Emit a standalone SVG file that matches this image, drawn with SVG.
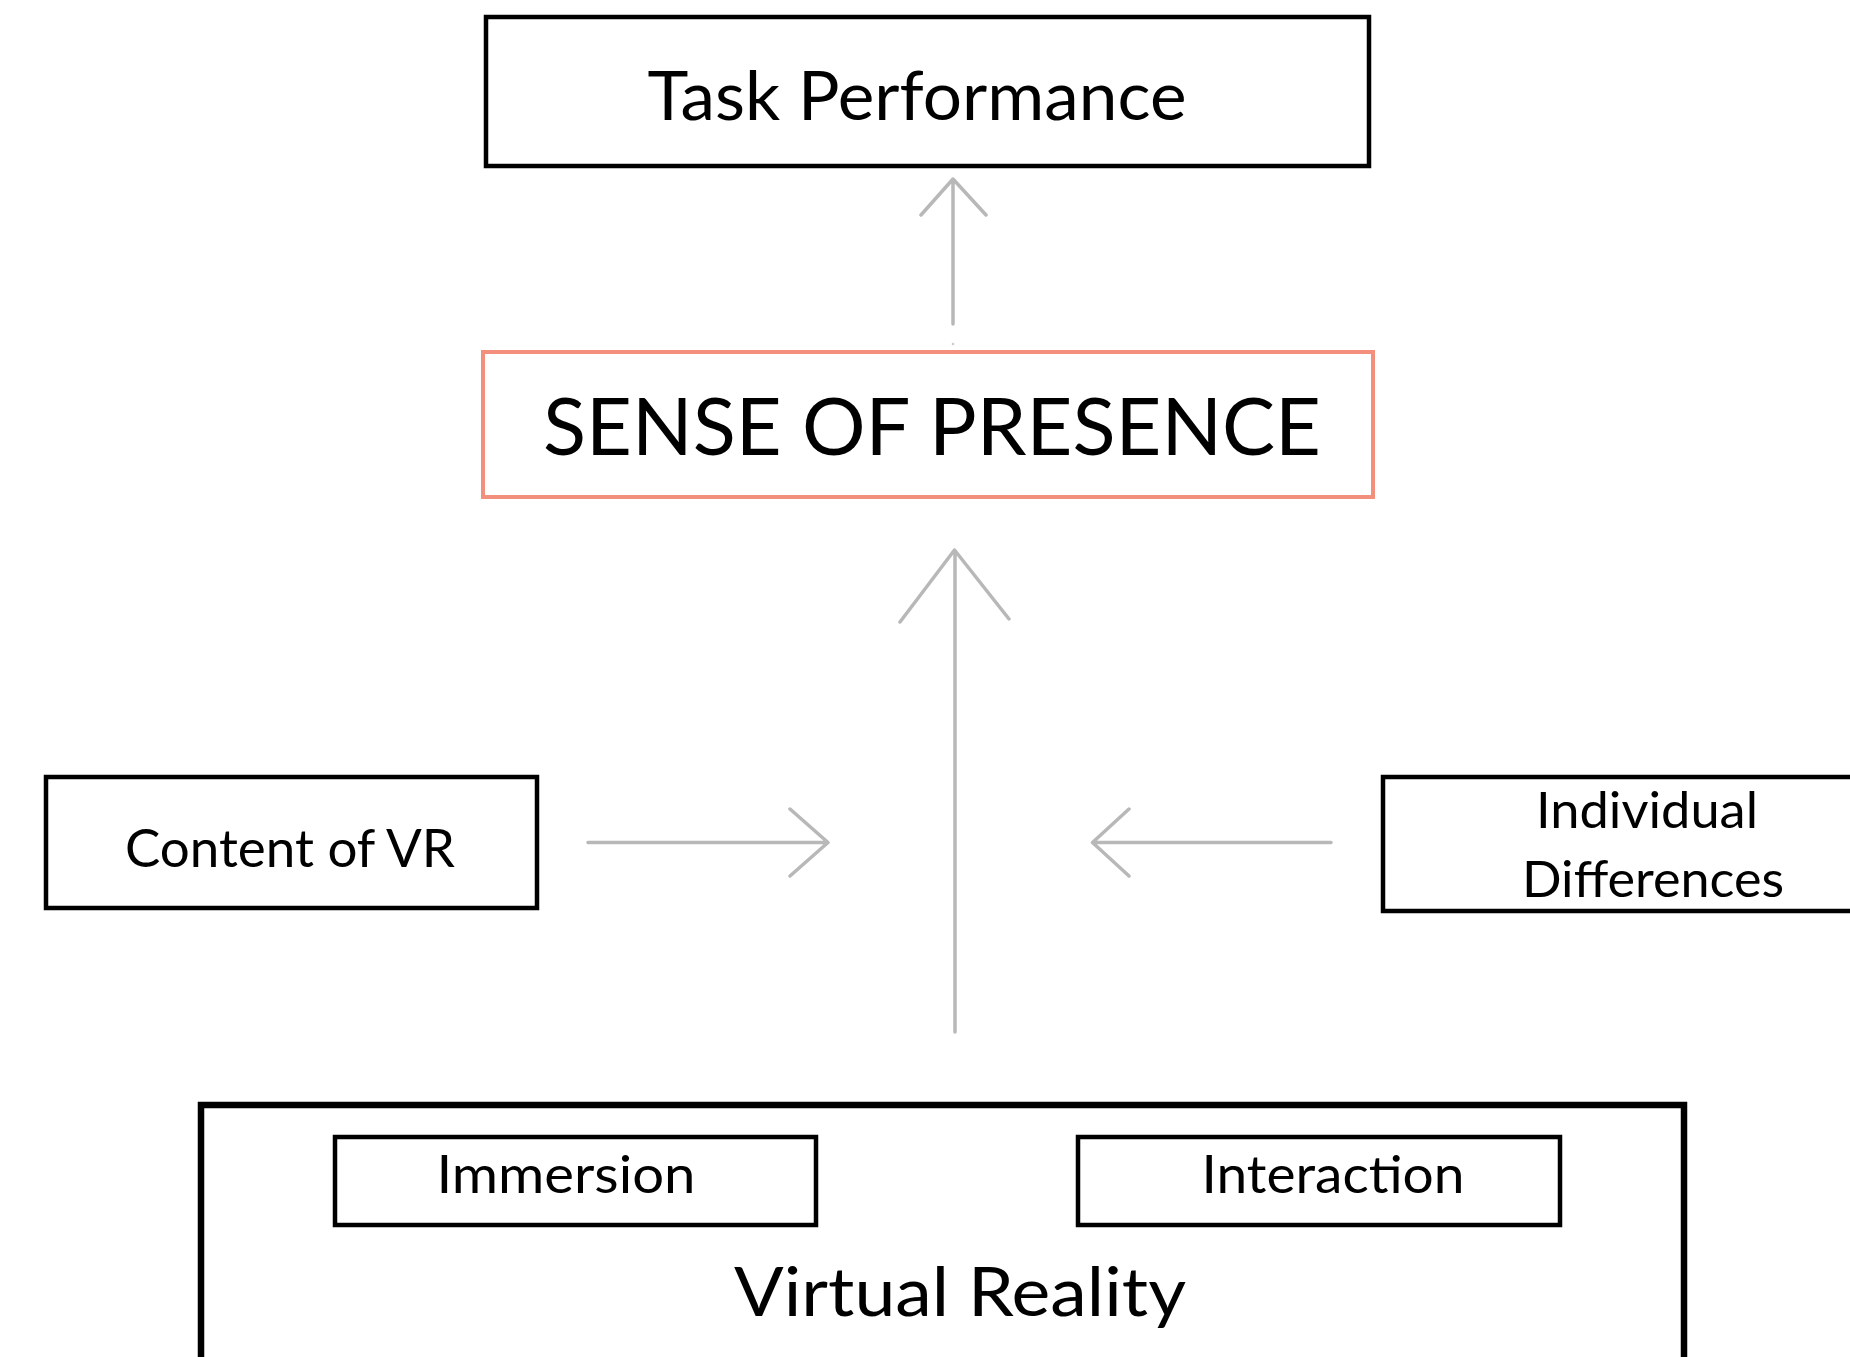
<svg xmlns="http://www.w3.org/2000/svg" width="1850" height="1357" viewBox="0 0 1850 1357">
<style>
  .box{fill:#fff;stroke:#000;stroke-width:4.5}
  .outer{fill:#fff;stroke:#000;stroke-width:6.5}
  .pres{fill:#fff;stroke:#F2907D;stroke-width:4}
  .t{font-family:Lato,"Noto Sans","Liberation Sans",sans-serif;fill:#000;text-anchor:middle}
  .c{fill:none;stroke:#B8B8B8;stroke-width:3.5;stroke-linecap:round;stroke-linejoin:round}
</style>
<rect width="1850" height="1357" fill="#fff"/>
<g id="connectors">
  <path class="c" d="M953 324 V180 M921 215 L953 179 L986 215"/>
  <circle cx="953" cy="344" r="1.3" fill="#CCCCCC"/>
  <path class="c" d="M955 1032 V551 M900 622 L954.5 550 L1009 619"/>
  <path class="c" d="M588 842.5 H827 M790 809 L828 842.5 L790 876"/>
  <path class="c" d="M1331 842.5 H1094 M1129 809 L1092.5 842.5 L1129 876"/>
</g>
<g id="task-performance">
  <rect class="box" x="486" y="17" width="883" height="149"/>
  <text class="t" x="917" y="120" font-size="67" textLength="539" lengthAdjust="spacingAndGlyphs">Task Performance</text>
</g>
<g id="sense-of-presence">
  <rect class="pres" x="483" y="352" width="890" height="145"/>
  <text class="t" x="932" y="455" font-size="80" textLength="778" lengthAdjust="spacingAndGlyphs">SENSE OF PRESENCE</text>
</g>
<g id="content-of-vr">
  <rect class="box" x="46" y="777" width="491" height="131"/>
  <text class="t" x="290" y="867" font-size="52" textLength="330" lengthAdjust="spacingAndGlyphs">Content of VR</text>
</g>
<g id="individual-differences">
  <rect class="box" x="1383" y="777" width="480" height="134"/>
  <text class="t" x="1647" y="828" font-size="51" textLength="222" lengthAdjust="spacingAndGlyphs">Individual</text>
  <text class="t" x="1653" y="897" font-size="51" textLength="262" lengthAdjust="spacingAndGlyphs">Differences</text>
</g>
<g id="virtual-reality">
  <rect class="outer" x="201" y="1105" width="1483" height="260"/>
  <text class="t" x="960" y="1316" font-size="67" textLength="452" lengthAdjust="spacingAndGlyphs">Virtual Reality</text>
</g>
<g id="immersion">
  <rect class="box" x="335" y="1137" width="481" height="88"/>
  <text class="t" x="566" y="1193" font-size="52" textLength="259" lengthAdjust="spacingAndGlyphs">Immersion</text>
</g>
<g id="interaction">
  <rect class="box" x="1078" y="1137" width="482" height="88"/>
  <text class="t" x="1333" y="1193" font-size="52" textLength="263" lengthAdjust="spacingAndGlyphs">Interaction</text>
</g>
</svg>
